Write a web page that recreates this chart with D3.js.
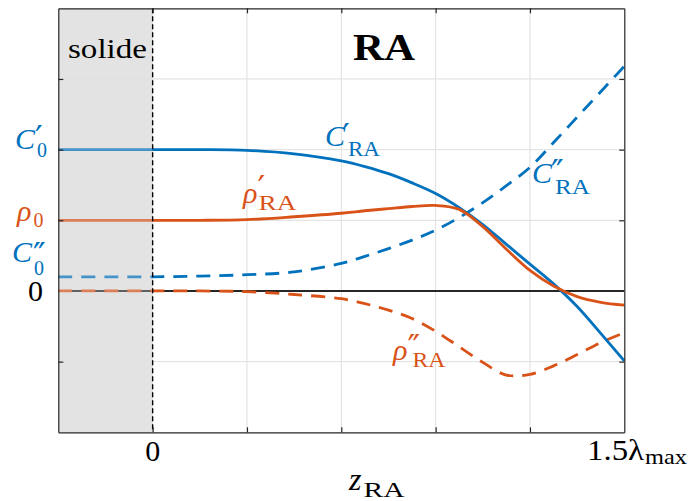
<!DOCTYPE html>
<html><head><meta charset="utf-8">
<script src="https://cdn.jsdelivr.net/npm/d3@7"></script>
<style>html,body{margin:0;padding:0;background:#fff;} svg{display:block;}</style>
</head><body>
<svg id="chart" width="691" height="501"></svg>
<script>
// ---- data ----
const zPos      = [-1,-0.5,0,0.5,1,1.5,2,2.25,2.5,2.75,3,3.25,3.5,3.75,4,4.25,4.5,4.75,5];
const cPrime    = [2.0,2.0,2.0,2.0,1.99,1.94,1.84,1.76,1.66,1.53,1.38,1.18,0.94,0.66,0.38,0.10,-0.22,-0.60,-0.99];
const rhoPrime  = [1.0,1.0,1.0,1.0,1.01,1.05,1.10,1.135,1.165,1.195,1.21,1.155,0.91,0.59,0.29,0.07,-0.08,-0.16,-0.20];
const cSecond   = [0.2,0.2,0.2,0.21,0.23,0.27,0.39,0.49,0.60,0.72,0.86,1.04,1.25,1.49,1.75,2.10,2.46,2.82,3.18];
const rhoSecond = [0,0,0,0,-0.01,-0.05,-0.11,-0.18,-0.27,-0.39,-0.57,-0.79,-1.01,-1.19,-1.18,-1.06,-0.90,-0.73,-0.59];
const xTicks = [0,1,2,3,4];
const yTicks = [-1,1,2,3];
const xTickLabels = [{v:0, t:"0"}, {v:5, t:"1.5λ", sub:"max"}];
const solidRange = [-1, 0];

const BLUE = "#0072BD", ORANGE = "#D95319", AX = "#262626";
const SERIF = "'Liberation Serif', 'DejaVu Serif', serif";
const PRIME_FONT = "'DejaVu Sans', sans-serif";

const svg = d3.select("#chart");
const x = d3.scaleLinear().domain([-1,5]).range([58.3, 624.3]);
const y = d3.scaleLinear().domain([-2,4]).range([432.3, 8.3]);

svg.append("rect").attr("width",691).attr("height",501).attr("fill","#fff");

// solide region
svg.append("rect")
  .attr("x", x(solidRange[0])).attr("y", y(4))
  .attr("width", x(solidRange[1]) - x(solidRange[0])).attr("height", y(-2) - y(4))
  .attr("fill", "#e3e3e3");

// grid
const grid = svg.append("g").attr("stroke","#dfdfdf").attr("stroke-width",1);
grid.selectAll("line.v").data(xTicks).join("line")
  .attr("x1", d=>x(d)).attr("x2", d=>x(d)).attr("y1", y(4)).attr("y2", y(-2));
grid.selectAll("line.h").data(yTicks).join("line")
  .attr("x1", x(-1)).attr("x2", x(5)).attr("y1", d=>y(d)).attr("y2", d=>y(d));

// zero line
svg.append("line").attr("x1", x(-1)).attr("x2", x(5)).attr("y1", y(0)).attr("y2", y(0))
  .attr("stroke", AX).attr("stroke-width", 2);

// curves
const line = d3.line().x(d=>x(d[0])).y(d=>y(d[1])).curve(d3.curveCatmullRom.alpha(0.5));
const series = [
  {v: cSecond, c: BLUE, dash: "14,9"},
  {v: rhoSecond, c: ORANGE, dash: "14,9"},
  {v: cPrime, c: BLUE, dash: null},
  {v: rhoPrime, c: ORANGE, dash: null}
];
series.forEach(s => {
  svg.append("path").datum(zPos.map((z,i)=>[z, s.v[i]]))
    .attr("d", line).attr("fill","none").attr("stroke", s.c)
    .attr("stroke-width", 2.8).attr("stroke-dasharray", s.dash);
});

// wash over solide region
svg.append("rect")
  .attr("x", x(solidRange[0])).attr("y", y(4))
  .attr("width", x(solidRange[1]) - x(solidRange[0])).attr("height", y(-2) - y(4))
  .attr("fill", "#e3e3e3").attr("opacity", 0.3);

// vertical dashed separator
svg.append("line").attr("x1", x(0)).attr("x2", x(0)).attr("y1", y(4)).attr("y2", y(-2))
  .attr("stroke", "#000").attr("stroke-width", 1.4).attr("stroke-dasharray", "5,3");

// axes box with inward ticks
function styleAxis(g){ g.select(".domain").attr("stroke", AX).attr("stroke-width",1.2);
  g.selectAll(".tick line").attr("stroke", AX).attr("stroke-width",1.2); g.selectAll(".tick text").remove(); }
svg.append("g").attr("transform",`translate(0,${y(-2)})`)
  .call(d3.axisBottom(x).tickValues(xTicks).tickSizeInner(-5).tickSizeOuter(0)).call(styleAxis);
svg.append("g").attr("transform",`translate(0,${y(4)})`)
  .call(d3.axisTop(x).tickValues(xTicks).tickSizeInner(-5).tickSizeOuter(0)).call(styleAxis);
svg.append("g").attr("transform",`translate(${x(-1)},0)`)
  .call(d3.axisLeft(y).tickValues(yTicks).tickSizeInner(-5).tickSizeOuter(0)).call(styleAxis);
svg.append("g").attr("transform",`translate(${x(5)},0)`)
  .call(d3.axisRight(y).tickValues(yTicks).tickSizeInner(-5).tickSizeOuter(0)).call(styleAxis);

// math-like label helper: one <text> with tspans
function mathLabel(px, py, main, o){
  const t = svg.append("text").attr("fill", o.color || "#000").attr("font-family", SERIF);
  const m = t.append("tspan").attr("x", px).attr("y", py).attr("font-size", o.size || 30)
    .attr("font-style", o.italic === false ? "normal" : "italic").text(main);
  if (o.mainLen) m.attr("textLength", o.mainLen).attr("lengthAdjust","spacingAndGlyphs");
  const w = o.mainLen || m.node().getComputedTextLength();
  if (o.sup) t.append("tspan").attr("x", px + w + (o.supDx||0)).attr("y", py + (o.supDy||0))
    .attr("font-family", PRIME_FONT).attr("font-size", o.supSize || 34).text(o.sup);
  if (o.sub) {
    const s = t.append("tspan").attr("x", px + w + (o.subDx||0)).attr("y", py + (o.subDy||9))
      .attr("font-size", o.subSize || 20).attr("font-style","normal").text(o.sub);
    if (o.subLen) s.attr("textLength", o.subLen).attr("lengthAdjust","spacingAndGlyphs");
  }
  return t;
}

// y-axis labels
mathLabel(15, 149, "C", {color: BLUE, sup:"′", supDx:0, supDy:1, sub:"0", subDx:2, subDy:8});
mathLabel(17, 221, "ρ", {color: ORANGE, sub:"0", subDx:2, subDy:6});
mathLabel(12, 262, "C", {color: BLUE, sup:"″", supDx:1, supDy:5, sub:"0", subDx:2, subDy:13});
svg.append("text").attr("x", 43).attr("y", 301).attr("text-anchor","end")
  .attr("font-family", SERIF).attr("font-size", 30).text("0");

// x tick labels
xTickLabels.forEach(tk => {
  if (!tk.sub) {
    svg.append("text").attr("x", x(tk.v)).attr("y", 461).attr("text-anchor","middle")
      .attr("font-family", SERIF).attr("font-size", 30).text(tk.t);
  } else {
    mathLabel(587, 460, tk.t, {italic:false, mainLen:57, sub:tk.sub, subDx:1, subDy:4, subSize:22, subLen:42});
  }
});

// x axis label
mathLabel(349, 490, "z", {size:32, sub:"RA", subDx:2, subDy:7, subLen:41});

// curve labels
mathLabel(325, 146, "C", {color: BLUE, sup:"′", supDx:-3, supDy:2, sub:"RA", subDx:3, subDy:10, subLen:32});
mathLabel(243, 203, "ρ", {color: ORANGE, sup:"′", supDx:0, supDy:-3, sub:"RA", subDx:1, subDy:7, subLen:38});
mathLabel(532, 183, "C", {color: BLUE, sup:"″", supDx:-1, supDy:1, sub:"RA", subDx:3, subDy:11, subLen:35});
mathLabel(393, 360, "ρ", {color: ORANGE, sup:"″", supDx:0, supDy:-1, sub:"RA", subDx:5, subDy:7, subLen:33});

// region titles
svg.append("text").attr("x", 68).attr("y", 58).attr("font-family", SERIF).attr("font-size", 27)
  .attr("textLength", 79).attr("lengthAdjust","spacingAndGlyphs").text("solide");
svg.append("text").attr("x", 353).attr("y", 59.5).attr("font-family", SERIF).attr("font-size", 38)
  .attr("font-weight","bold").attr("textLength", 62).attr("lengthAdjust","spacingAndGlyphs").text("RA");
</script>
</body></html>
